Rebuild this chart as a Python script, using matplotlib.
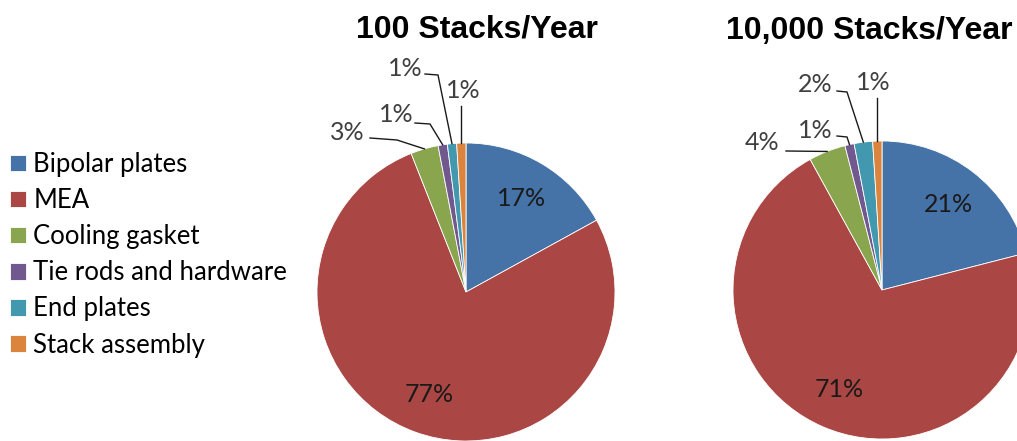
import matplotlib
matplotlib.use("Agg")
import matplotlib.pyplot as plt
import numpy as np

# Stack cost breakdown by component
components = ["Bipolar plates", "MEA", "Cooling gasket",
              "Tie rods and hardware", "End plates", "Stack assembly"]
share_100 = [17, 77, 3, 1, 1, 1]
share_10000 = [21, 71, 4, 1, 2, 1]
titles = ["100 Stacks/Year", "10,000 Stacks/Year"]
colors = ["#4572A7", "#AA4643", "#89A54E", "#71588F", "#4198AF", "#DB843D"]

W, H = 1017, 441
fig = plt.figure(figsize=(W / 100, H / 100), dpi=100)
ax = fig.add_axes([0, 0, 1, 1])

LABEL_FONT = "Lato"
TITLE_FONT = "Liberation Sans"


def py(y):
    """Convert a top-down pixel row to the axes' bottom-up coordinate."""
    return H - y


pies = [
    dict(values=share_100, center=(466, py(292)), title=titles[0], title_xy=(477, py(29)),
         # (text centre, leader start, elbow or None) for slices 2..5
         small=[((347, 132), (370, 138), (397, 140)),
                ((396, 115), (415, 123), (430, 124)),
                ((405, 68), (425, 74), (438, 75)),
                ((463, 90), None, None)]),
    dict(values=share_10000, center=(882, py(290)), title=titles[1], title_xy=(869, py(31)),
         small=[((762, 142), (786, 151), None),
                ((815, 130), (837, 136), (847, 137)),
                ((815, 85), (837, 91), (847, 92)),
                ((873, 82), None, None)]),
]
R = 149

legend_wedges = None
for p in pies:
    wedges, _ = ax.pie(p["values"], colors=colors, startangle=90, counterclock=False,
                       center=p["center"], radius=R,
                       wedgeprops=dict(edgecolor="white", linewidth=0.6))
    if legend_wedges is None:
        legend_wedges = wedges
    cx, cy = p["center"]
    # labels inside the two large slices
    for w, v in zip(wedges[:2], p["values"][:2]):
        mid = np.deg2rad((w.theta1 + w.theta2) / 2)
        ax.text(cx + 0.73 * R * np.cos(mid), cy + 0.73 * R * np.sin(mid), f"{v}%",
                ha="center", va="center", fontsize=18, family=LABEL_FONT, color="#1a1a1a")
    # leader-line labels for the small slices
    for w, v, (txt, start, elbow) in zip(wedges[2:], p["values"][2:], p["small"]):
        mid = np.deg2rad((w.theta1 + w.theta2) / 2)
        ex, ey = cx + R * np.cos(mid), cy + R * np.sin(mid)
        ax.text(txt[0], py(txt[1]), f"{v}%", ha="center", va="center",
                fontsize=18, family=LABEL_FONT, color="#404040")
        if start is None:
            xs, ys = [ex, ex], [py(txt[1] + 16), ey]
        elif elbow is None:
            xs, ys = [start[0], ex], [py(start[1]), ey]
        else:
            xs, ys = [start[0], elbow[0], ex], [py(start[1]), py(elbow[1]), ey]
        ax.plot(xs, ys, color="#1a1a1a", linewidth=1.0, solid_joinstyle="miter")
    ax.text(p["title_xy"][0], p["title_xy"][1], p["title"], ha="center", va="center",
            fontsize=23, fontweight="bold", family=TITLE_FONT, color="black")

ax.set_aspect("equal")
ax.set_xlim(0, W)
ax.set_ylim(0, H)
ax.axis("off")

leg = ax.legend(legend_wedges, components, loc="upper left",
                bbox_to_anchor=(0 / W, 1 - 142 / H), frameon=False,
                prop=dict(family=LABEL_FONT, size=18.5),
                handlelength=0.6, handleheight=0.6, handletextpad=0.3,
                labelspacing=0.43, borderaxespad=0)

fig.savefig("out.png", dpi=100, facecolor="white")
